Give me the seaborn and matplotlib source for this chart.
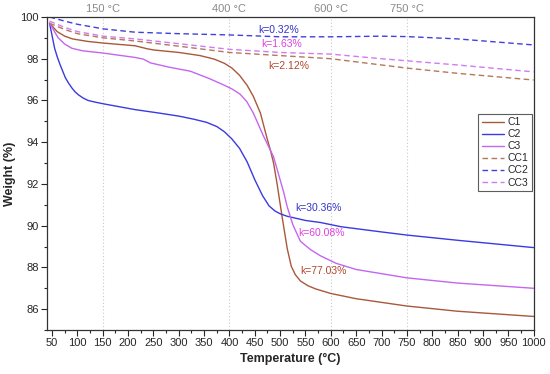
import pandas as pd
import matplotlib.pyplot as plt
from matplotlib.ticker import MultipleLocator
import seaborn as sns

# TG curves
t_c1 = [45, 60, 75, 90, 120, 151, 214, 237, 250, 300, 342, 370, 390, 405, 420, 435, 447, 461, 474, 481, 487, 494, 504, 514, 522, 530, 540, 555, 570, 600, 650, 750, 850, 1000]
w_c1 = [99.7, 99.3, 99.08, 98.95, 98.83, 98.75, 98.62, 98.48, 98.42, 98.3, 98.15, 97.98, 97.78, 97.55, 97.2, 96.72, 96.2, 95.4, 94.2, 93.6, 93.0, 92.0, 90.4, 88.9, 88.05, 87.65, 87.35, 87.12, 86.97, 86.75, 86.5, 86.15, 85.9, 85.65]

t_c2 = [45, 50, 55, 60, 66, 71, 76, 82, 89, 95, 102, 111, 121, 135, 151, 214, 260, 300, 330, 355, 375, 390, 405, 420, 435, 450, 465, 478, 490, 500, 514, 550, 580, 620, 700, 750, 850, 1000]
w_c2 = [99.7, 99.1, 98.5, 98.1, 97.7, 97.4, 97.1, 96.85, 96.6, 96.42, 96.27, 96.12, 96.0, 95.92, 95.84, 95.56, 95.4, 95.25, 95.1, 94.95, 94.75, 94.5, 94.15, 93.7, 93.05, 92.2, 91.45, 90.95, 90.7, 90.57, 90.45, 90.25, 90.15, 89.95, 89.7, 89.55, 89.3, 88.95]

t_c3 = [45, 62, 75, 89, 110, 151, 214, 230, 244, 280, 323, 360, 388, 405, 421, 434, 447, 467, 487, 507, 514, 525, 540, 560, 580, 610, 650, 700, 750, 850, 1000]
w_c3 = [99.7, 99.0, 98.7, 98.5, 98.38, 98.27, 98.06, 97.98, 97.8, 97.6, 97.4, 97.05, 96.75, 96.55, 96.3, 95.95, 95.4, 94.3, 93.3, 91.6, 90.9, 90.05, 89.25, 88.85, 88.55, 88.2, 87.9, 87.7, 87.5, 87.25, 87.0]

t_cc = [45, 75, 100, 151, 214, 300, 400, 500, 600, 700, 750, 850, 1000]
w_cc1 = [99.7, 99.4, 99.2, 99.0, 98.85, 98.6, 98.3, 98.15, 98.0, 97.7, 97.55, 97.3, 96.98]
w_cc2 = [100.0, 99.8, 99.65, 99.43, 99.27, 99.2, 99.14, 99.05, 99.05, 99.08, 99.06, 98.95, 98.66]
w_cc3 = [99.8, 99.5, 99.3, 99.08, 98.95, 98.72, 98.45, 98.3, 98.22, 98.0, 97.9, 97.7, 97.37]

marks = [150, 400, 600, 750]
k_text = ['k=0.32%', 'k=1.63%', 'k=2.12%', 'k=30.36%', 'k=60.08%', 'k=77.03%']
k_pos = [(457, 99.38), (463, 98.71), (477, 97.66), (530, 90.83), (536, 89.63), (540, 87.82)]
k_col = ['#3333cc', '#e040e0', '#b0482a', '#3333cc', '#e040e0', '#b0482a']

sns.set_style('ticks')
plt.rcParams['font.family'] = ['Liberation Sans', 'DejaVu Sans']

fig = plt.figure(figsize=(5.5, 3.74), dpi=100)
ax = fig.add_axes([0.0855, 0.1176, 0.8855, 0.837])

series = [
    ('C1', t_c1, w_c1, '#a9583a', '-'),
    ('C2', t_c2, w_c2, '#3a3ae0', '-'),
    ('C3', t_c3, w_c3, '#c466ef', '-'),
    ('CC1', t_cc, w_cc1, '#b3785a', '--'),
    ('CC2', t_cc, w_cc2, '#4040e0', '--'),
    ('CC3', t_cc, w_cc3, '#d27af2', '--'),
]
for name, t, w, c, ls in series:
    df = pd.DataFrame({'t': t, 'w': w})
    sns.lineplot(data=df, x='t', y='w', color=c, linestyle=ls, lw=1.0,
                 label=name, ax=ax, dashes=False)
    if ls == '--':
        ax.lines[-1].set_dashes((4, 2.5))

for m in marks:
    ax.axvline(m, color='#c8c8c8', lw=0.8, ls=(0, (1, 2)), zorder=0)
    ax.text(m, 100.12, f'{m} °C', color='#8a8a8a', fontsize=8,
            ha='center', va='bottom')

for s, (x, y), c in zip(k_text, k_pos, k_col):
    ax.text(x, y, s, color=c, fontsize=7.5, ha='left', va='center')

ax.set_xlim(40, 1001)
ax.set_ylim(85, 100)
ax.xaxis.set_major_locator(MultipleLocator(50))
ax.xaxis.set_minor_locator(MultipleLocator(25))
ax.yaxis.set_major_locator(MultipleLocator(2))
ax.yaxis.set_minor_locator(MultipleLocator(1))
ax.tick_params(which='major', direction='out', length=4, width=0.8, labelsize=8, pad=2)
ax.tick_params(which='minor', direction='out', length=2, width=0.8)
ax.set_xlabel('Temperature (°C)', fontsize=9, fontweight='bold', labelpad=3)
ax.set_ylabel('Weight (%)', fontsize=9, fontweight='bold', labelpad=3)
for sp in ax.spines.values():
    sp.set_visible(True)
    sp.set_color('#333333')
    sp.set_linewidth(0.9)

leg = ax.legend(loc='upper right', bbox_to_anchor=(0.995, 0.69), fontsize=7.5,
                frameon=True, fancybox=False, handlelength=2.2, handletextpad=0.3,
                borderpad=0.3, labelspacing=0.2, borderaxespad=0)
leg.get_frame().set_edgecolor('#333333')
leg.get_frame().set_linewidth(0.8)

fig.savefig('out.png', dpi=100)
